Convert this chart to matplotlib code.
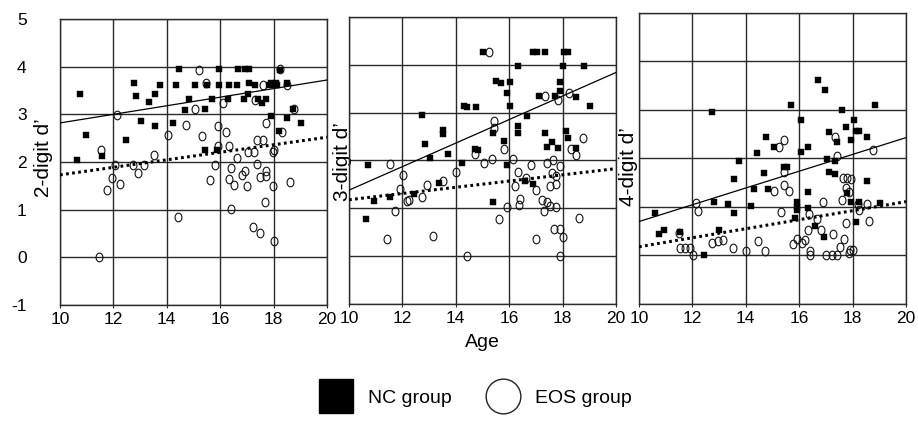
import numpy as np
import matplotlib
matplotlib.use("Agg")
import matplotlib.pyplot as plt
from matplotlib.path import Path
from matplotlib.lines import Line2D

plt.rcParams['font.family'] = ['Liberation Sans', 'DejaVu Sans']

# ---------------- data ----------------
panel_labels = ["2-digit d\u2019", "3-digit d\u2019", "4-digit d\u2019"]
x_ticks = [10, 12, 14, 16, 18, 20]
y_ticks = [-1, 0, 1, 2, 3, 4, 5]
fit_ages = [10, 20]

# Panel 1 (2-digit)
nc_age_2 = [10.75, 10.97, 10.65, 11.56, 12.46, 12.76, 12.83, 13.04, 13.34, 13.54, 13.54, 13.75,
            14.23, 14.34, 14.44, 14.70, 14.85, 15.06, 15.44, 15.44, 15.52, 15.70, 15.87, 15.95,
            15.95, 16.31, 16.33, 16.62, 16.68, 16.94, 17.08, 17.08, 16.91, 17.03, 17.31, 17.42,
            17.57, 17.73, 17.83, 17.92, 17.98, 18.08, 18.14, 17.90, 18.23, 18.22, 18.50, 18.50,
            18.73, 19.02]
nc_d_2 = [3.42, 2.56, 2.04, 2.12, 2.46, 3.66, 3.38, 2.86, 3.26, 3.42, 2.75, 3.62,
          2.81, 3.62, 3.96, 3.10, 3.33, 3.62, 3.12, 2.25, 3.62, 3.33, 2.25, 3.62,
          3.96, 3.33, 3.62, 3.62, 3.96, 3.96, 3.96, 3.66, 3.33, 3.42, 3.62, 3.33,
          3.24, 3.33, 3.62, 3.66, 3.62, 3.66, 3.62, 2.96, 3.93, 2.65, 3.66, 2.93,
          3.12, 2.81]
eos_age_2 = [11.46, 11.55, 11.75, 11.95, 12.05, 12.15, 12.25, 12.74, 12.93, 13.14, 13.53, 14.03,
             14.43, 14.73, 15.04, 15.21, 15.32, 15.47, 15.63, 15.79, 15.92, 15.91, 16.11, 16.22,
             16.32, 16.33, 16.41, 16.41, 16.53, 16.62, 16.82, 16.92, 17.01, 17.03, 17.23, 17.26,
             17.31, 17.37, 17.37, 17.50, 17.50, 17.61, 17.67, 17.71, 17.71, 17.71, 17.60, 17.97,
             18.01, 17.99, 18.03, 18.23, 18.31, 18.50, 18.60, 18.75]
eos_d_2 = [0.00, 2.25, 1.42, 1.66, 1.93, 2.99, 1.54, 1.93, 1.77, 1.93, 2.14, 2.56,
           0.84, 2.77, 3.12, 3.94, 2.55, 3.66, 1.63, 1.94, 2.33, 2.75, 3.24, 2.62,
           1.65, 2.33, 1.87, 1.01, 1.51, 2.08, 1.72, 1.82, 1.49, 2.20, 0.63, 2.20,
           3.31, 1.96, 2.47, 0.51, 1.68, 2.47, 1.17, 1.70, 1.82, 2.81, 3.61, 2.22,
           0.35, 1.49, 2.25, 3.96, 2.62, 3.61, 1.59, 3.12]
nc_fit_2 = [2.82, 3.72]
eos_fit_2 = [1.73, 2.52]

# Panel 2 (3-digit)
nc_age_3 = [15.01, 16.89, 17.04, 17.33, 18.06, 18.21, 16.33, 18.02, 18.81, 15.51, 15.70, 16.04,
            15.91, 17.89, 17.89, 17.11, 17.71, 18.52, 16.04, 19.02, 14.32, 14.42, 14.76, 16.68,
            12.73, 16.33, 16.33, 13.51, 13.51, 15.41, 17.33, 18.11, 12.83, 15.80, 17.42, 17.61,
            17.83, 18.21, 18.52, 14.72, 14.85, 13.72, 13.03, 14.24, 15.91, 10.73, 13.36, 16.58,
            16.89, 12.44, 11.53, 10.95, 15.41, 10.63]
nc_d_3 = [4.26, 4.26, 4.26, 4.26, 4.26, 4.26, 3.97, 3.97, 3.97, 3.67, 3.63, 3.64,
          3.42, 3.64, 3.46, 3.34, 3.34, 3.33, 3.13, 3.13, 3.13, 3.11, 3.11, 2.94,
          2.96, 2.73, 2.57, 2.63, 2.55, 2.57, 2.57, 2.62, 2.34, 2.40, 2.28, 2.39,
          2.26, 2.46, 2.26, 2.23, 2.21, 2.14, 2.05, 1.95, 1.91, 1.90, 1.53, 1.57,
          1.50, 1.29, 1.23, 1.16, 1.13, 0.77]
eos_age_3 = [15.24, 17.33, 17.83, 18.25, 15.43, 15.43, 15.79, 14.72, 15.04, 15.34, 16.14, 11.52,
             12.04, 11.92, 12.16, 12.26, 11.72, 11.42, 12.73, 12.94, 13.53, 13.13, 14.01, 14.42,
             16.33, 16.64, 16.83, 16.20, 16.42, 16.35, 15.91, 15.61, 17.02, 17.02, 17.24, 17.30,
             17.42, 17.52, 17.74, 17.42, 17.64, 17.62, 17.74, 17.52, 17.74, 17.89, 17.67, 17.92,
             18.02, 17.89, 18.31, 18.52, 18.77, 18.61]
eos_d_3 = [4.26, 3.34, 3.27, 3.42, 2.82, 2.68, 2.24, 2.14, 1.95, 2.04, 2.03, 1.92,
           1.69, 1.41, 1.15, 1.17, 0.94, 0.35, 1.24, 1.48, 1.57, 0.42, 1.75, 0.00,
           1.75, 1.63, 1.91, 1.46, 1.20, 1.08, 1.03, 0.77, 1.39, 0.35, 1.18, 0.94,
           1.13, 1.04, 1.03, 1.95, 2.00, 1.74, 1.67, 1.46, 1.50, 1.88, 0.56, 0.56,
           0.40, 0.01, 2.23, 2.12, 2.47, 0.80]
nc_fit_3 = [1.38, 3.84]
eos_fit_3 = [1.18, 1.83]

# Panel 3 (4-digit)
nc_age_4 = [16.69, 16.95, 12.74, 15.71, 18.83, 17.59, 16.05, 18.06, 17.75, 17.11, 18.13, 18.24,
            17.93, 18.53, 14.76, 17.43, 15.05, 16.32, 16.05, 14.42, 13.73, 17.05, 17.34, 15.42,
            15.55, 17.11, 17.33, 14.69, 13.54, 18.53, 14.32, 14.83, 16.32, 17.78, 12.81, 13.35,
            14.20, 15.92, 15.92, 16.32, 17.93, 18.24, 19.03, 13.54, 10.60, 15.92, 15.83, 18.13,
            16.59, 10.93, 10.74, 11.53, 13.01, 16.93, 12.43]
nc_d_4 = [3.61, 3.41, 2.95, 3.11, 3.10, 2.99, 2.79, 2.80, 2.65, 2.55, 2.57, 2.56,
          2.38, 2.45, 2.45, 2.35, 2.24, 2.24, 2.13, 2.12, 1.94, 1.98, 1.94, 1.83,
          1.83, 1.73, 1.68, 1.71, 1.58, 1.54, 1.37, 1.37, 1.30, 1.29, 1.11, 1.06,
          1.03, 1.10, 1.00, 0.98, 1.11, 1.11, 1.08, 0.88, 0.88, 0.94, 0.77, 0.70,
          0.60, 0.52, 0.44, 0.49, 0.53, 0.38, 0.00]
eos_age_4 = [15.42, 15.23, 17.34, 17.42, 18.78, 15.42, 15.42, 15.04, 15.63, 17.64, 17.80, 17.93,
             17.77, 17.86, 17.62, 16.91, 18.53, 18.24, 18.62, 12.13, 12.22, 15.32, 16.36, 16.65,
             16.32, 16.80, 17.27, 17.74, 17.68, 17.53, 16.20, 15.92, 15.77, 16.11, 16.42, 16.42,
             16.99, 17.23, 17.42, 17.86, 18.03, 17.90, 11.49, 11.53, 11.74, 11.91, 12.03, 12.72,
             12.95, 13.16, 13.51, 14.00, 14.44, 14.72, 18.22]
eos_d_4 = [2.38, 2.24, 2.45, 2.05, 2.17, 1.73, 1.46, 1.32, 1.32, 1.59, 1.59, 1.58,
           1.39, 1.30, 1.15, 1.11, 1.07, 0.94, 0.72, 1.08, 0.92, 0.89, 0.85, 0.76,
           0.53, 0.53, 0.44, 0.67, 0.34, 0.18, 0.31, 0.34, 0.23, 0.26, 0.00, 0.09,
           0.00, 0.00, 0.00, 0.05, 0.11, 0.11, 0.46, 0.16, 0.16, 0.16, 0.00, 0.26,
           0.29, 0.31, 0.16, 0.09, 0.29, 0.09, 1.07]
nc_fit_4 = [0.70, 2.43]
eos_fit_4 = [0.18, 1.11]

panels = [
    (nc_age_2, nc_d_2, eos_age_2, eos_d_2, nc_fit_2, eos_fit_2),
    (nc_age_3, nc_d_3, eos_age_3, eos_d_3, nc_fit_3, eos_fit_3),
    (nc_age_4, nc_d_4, eos_age_4, eos_d_4, nc_fit_4, eos_fit_4),
]

# ---------------- styling ----------------
W, H = 918, 428
fig = plt.figure(figsize=(W / 100, H / 100), dpi=100)

# axes boxes in pixels: (left, top, right, bottom)
boxes_px = [(60, 19, 327, 305), (349, 17, 616, 304), (639, 13, 906, 304)]
label_coords = [(-0.026, 0.517), (0.011, 0.497), (-0.004, 0.473)]

# slightly tall ellipse marker for open circles
t = np.linspace(0, 2 * np.pi, 60)
ellipse = Path(np.column_stack([0.8 * np.cos(t), np.sin(t)]), closed=True)

grid_col = '#2a2a2a'
axes = []
for i, (box, data) in enumerate(zip(boxes_px, panels)):
    l, tp, r, b = box
    ax = fig.add_axes([l / W, 1 - b / H, (r - l) / W, (b - tp) / H])
    axes.append(ax)
    nc_a, nc_d, eos_a, eos_d, nc_fit, eos_fit = data
    ax.set_xlim(10, 20)
    ax.set_ylim(-1, 5)
    ax.set_xticks(x_ticks)
    ax.set_yticks(y_ticks)
    ax.set_axisbelow(True)
    ax.grid(True, color=grid_col, lw=1.0)
    for s in ax.spines.values():
        s.set_color(grid_col)
        s.set_linewidth(1.0)
    ax.tick_params(axis='x', labelsize=12.5, length=2, direction='out',
                   color=grid_col, pad=3)
    if i == 0:
        ax.tick_params(axis='y', labelsize=12.5, length=0, pad=24)
        ax.set_yticklabels([str(v) for v in y_ticks], ha='right')
    else:
        ax.tick_params(axis='y', length=0, labelleft=False)

    ax.plot(eos_a, eos_d, linestyle='none', marker=ellipse, markersize=6.2,
            markerfacecolor='none', markeredgecolor='#111111', markeredgewidth=0.8,
            zorder=3)
    ax.plot(nc_a, nc_d, linestyle='none', marker='s', markersize=3.8,
            markerfacecolor='black', markeredgecolor='black', markeredgewidth=0.3,
            zorder=4)
    ax.plot(fit_ages, nc_fit, color='black', lw=0.9, zorder=5)
    ax.plot(fit_ages, eos_fit, color='black', lw=2.2, linestyle=(0, (0.9, 1.1)),
            zorder=5)
    ax.set_ylabel(panel_labels[i], fontsize=15, labelpad=0)
    ax.yaxis.set_label_coords(*label_coords[i])

axes[1].set_xlabel("Age", fontsize=14, labelpad=6)

handles = [
    Line2D([], [], linestyle='none', marker='s', markersize=24,
           markerfacecolor='black', markeredgecolor='black'),
    Line2D([], [], color='#555555', lw=18, solid_capstyle='butt'),
    Line2D([], [], linestyle='none', marker='o', markersize=25,
           markerfacecolor='none', markeredgecolor='#222222', markeredgewidth=1.0),
    Line2D([], [], color='#555555', lw=18, linestyle=(0, (0.2, 0.22)),
           dash_capstyle='butt'),
]
labels = ["NC group", " ", "EOS group", " "]
fig.legend(handles, labels, loc='upper left', bbox_to_anchor=(318.5 / W, 1 - 389 / H),
           ncol=2, frameon=False, fontsize=14, handlelength=1.75,
           handletextpad=0.8, columnspacing=1.75, labelspacing=1.05, borderpad=0,
           borderaxespad=0)

fig.savefig("out.png", dpi=100)
